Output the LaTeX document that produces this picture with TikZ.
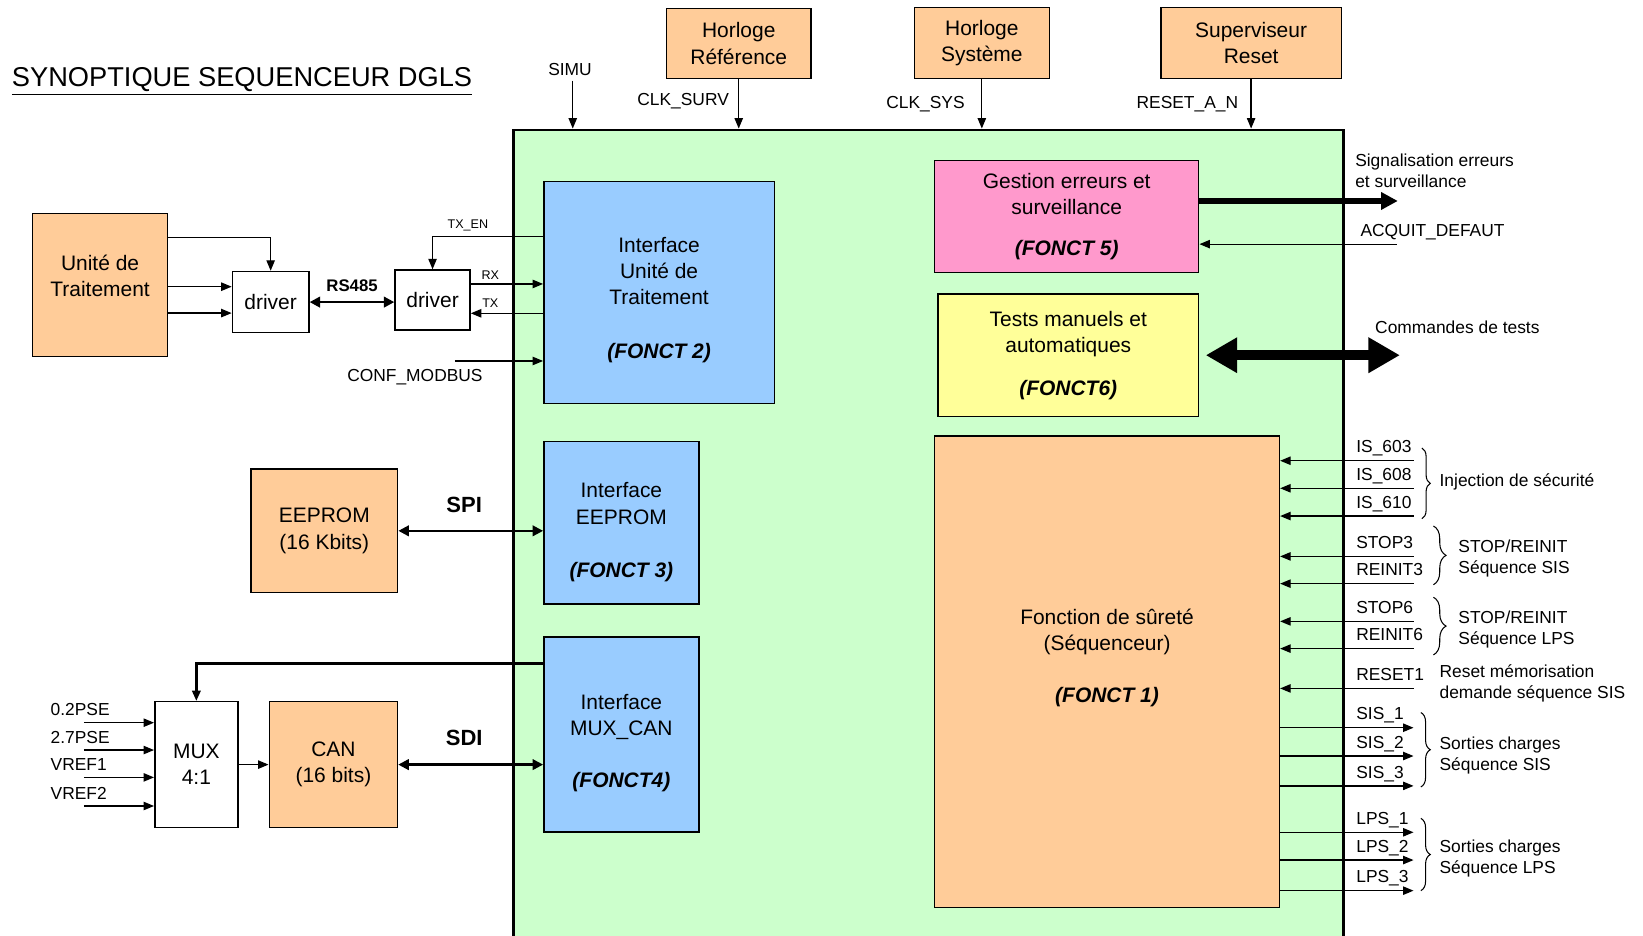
\documentclass[tikz,border=0pt]{standalone}
\usepackage{fontspec}
\setmainfont{Liberation Sans}
\usetikzlibrary{arrows.meta}
\usetikzlibrary{decorations.pathreplacing}

\definecolor{peche}{RGB}{255,204,153}
\definecolor{vertclair}{RGB}{204,255,204}
\definecolor{bleuclair}{RGB}{153,204,255}
\definecolor{rose}{RGB}{255,153,204}
\definecolor{jaune}{RGB}{255,255,153}

\newcommand{\ftitre}{\fontsize{13}{15}\selectfont}
\newcommand{\fbloc}{\fontsize{10}{12.5}\selectfont}
\newcommand{\fsig}{\fontsize{8.3}{10}\selectfont}
\newcommand{\fpetit}{\fontsize{6}{7}\selectfont}

\begin{document}
\begin{tikzpicture}[x=0.5pt, y=-0.5pt,
    blk/.style={draw, line width=0.7pt, align=center, inner sep=2pt, font=\fbloc},
    txt/.style={align=center, inner sep=2pt, font=\fbloc},
    lbl/.style={inner sep=1pt, font=\fsig},
    rlbl/.style={inner sep=1pt, font=\fsig, align=left, anchor=west},
    fl/.style={line width=0.6pt, -{Triangle[length=5pt,width=4pt]}},
    dblfl/.style={line width=1.3pt, {Triangle[length=5pt,width=5pt]}-{Triangle[length=5pt,width=5pt]}},
    grosfl/.style={line width=2.7pt, -{Triangle[length=8pt,width=8pt]}},
    fatfl/.style={line width=5pt, {Triangle[length=15pt,width=16pt]}-{Triangle[length=15pt,width=16pt]}},
    accol/.style={decorate, decoration={brace, amplitude=#1}, line width=0.5pt}]
\useasboundingbox (0,0) rectangle (1568,893);

\node[anchor=west, inner sep=0pt, font=\ftitre] (titre) at (11,78) {\underline{SYNOPTIQUE SEQUENCEUR DGLS}};

% carte sequenceur
\node[blk, fill=vertclair, line width=1.3pt, minimum width=396pt, minimum height=390.5pt] (seq) at (886,514.5) {};

% blocs externes
\node[blk, fill=peche, minimum width=69pt, minimum height=33.5pt] (horlref) at (705,41.5) {Horloge\\Référence};
\node[blk, fill=peche, minimum width=64.5pt, minimum height=34pt] (horlsys) at (937,41) {Horloge\\Système};
\node[blk, fill=peche, minimum width=86pt, minimum height=34pt] (supreset) at (1194,41) {Superviseur\\Reset};
\node[blk, fill=peche, minimum width=64.5pt, minimum height=68pt] (ut) at (95.5,272) {};
\node[txt] (uttxt) at ([yshift=4.5pt]ut) {Unité de\\Traitement};
\node[blk, fill=white, minimum width=36.5pt, minimum height=29.2pt] (drv1) at (258.3,288.3) {driver};
\node[blk, fill=white, minimum width=35.8pt, minimum height=28.7pt] (drv2) at (412.8,286.4) {driver};
\node[blk, fill=peche, minimum width=70pt, minimum height=59pt] (eeprom) at (309.5,506.6) {EEPROM\\(16 Kbits)};
\node[blk, fill=white, minimum width=39.7pt, minimum height=60pt] (mux) at (187.4,729.7) {MUX\\4:1};
\node[blk, fill=peche, minimum width=61.2pt, minimum height=60pt] (can) at (318.2,729.7) {CAN\\(16 bits)};

% fonctions internes
\node[blk, fill=bleuclair, minimum width=110pt, minimum height=106pt] (iut) at (629,279) {};
\node[txt] (iuttxt) at ([yshift=-3.5pt]iut) {Interface\\Unité de\\Traitement\\[13pt]\textbf{\textit{(FONCT 2)}}};
\node[blk, fill=bleuclair, minimum width=74pt, minimum height=77.5pt] (ieep) at (593,499) {};
\node[txt] (ieeptxt) at ([yshift=-4.5pt]ieep) {Interface\\EEPROM\\[13pt]\textbf{\textit{(FONCT 3)}}};
\node[blk, fill=bleuclair, minimum width=74pt, minimum height=93pt] (imux) at (593,701) {};
\node[txt] (imuxtxt) at ([yshift=-4pt]imux) {Interface\\MUX\_CAN\\[12.5pt]\textbf{\textit{(FONCT4)}}};
\node[blk, fill=rose, minimum width=126pt, minimum height=53.5pt] (gest) at (1018,206.7) {Gestion erreurs et\\surveillance\\[7pt]\textbf{\textit{(FONCT 5)}}};
\node[blk, fill=jaune, minimum width=124.5pt, minimum height=58.5pt] (tests) at (1019.5,339) {Tests manuels et\\automatiques\\[8pt]\textbf{\textit{(FONCT6)}}};
\node[blk, fill=peche, minimum width=164.5pt, minimum height=225pt] (surete) at (1056.5,641) {};
\node[txt] (suretetxt) at (1056.5,628) {Fonction de sûreté\\(Séquenceur)\\[12.5pt]\textbf{\textit{(FONCT 1)}}};

% entrees du haut
\coordinate (simu) at (546.6,77);
\draw[fl] (simu) -- (simu |- seq.north);
\node[lbl] (lsimu) at (544,66) {SIMU};
\draw[fl] (horlref.south) -- (horlref.south |- seq.north);
\node[lbl, anchor=east] (lclksurv) at (698,97) {CLK\_SURV};
\draw[fl] (horlsys.south) -- (horlsys.south |- seq.north);
\node[lbl, anchor=east] (lclksys) at (923,99) {CLK\_SYS};
\draw[fl] (supreset.south) -- (supreset.south |- seq.north);
\node[lbl, anchor=east] (lreset) at (1184,99) {RESET\_A\_N};

% unite de traitement et drivers
\draw[fl] ([yshift=22.5pt]ut.east) -| (drv1.north);
\coordinate (utb) at ([yshift=-0.8pt]ut.east);
\draw[fl] (utb) -- (utb -| drv1.west);
\coordinate (utc) at ([yshift=-13.4pt]ut.east);
\draw[fl] (utc) -- (utc -| drv1.west);
\draw[dblfl] (drv1.east) -- (drv1.east -| drv2.west);
\node[lbl, font=\fontsize{8}{9}\selectfont\bfseries] (lrs) at (336,273) {RS485};
\draw[fl] ([yshift=26.5pt]iut.west) -| (drv2.north) node[pos=0.34, above, inner sep=1pt, yshift=1.5pt, font=\fpetit] (ltxen) {TX\_EN};
\coordinate (rx) at ([yshift=7.7pt]drv2.east);
\draw[fl] (rx) -- (rx -| iut.west) node[pos=0.27, above, inner sep=1pt, yshift=1pt, font=\fpetit] (lrx) {RX};
\coordinate (tx) at ([yshift=-6.3pt]drv2.east);
\draw[fl] (tx -| iut.west) -- (tx) node[pos=0.73, above, inner sep=1pt, yshift=1.5pt, font=\fpetit] (ltx) {TX};
\coordinate (conf) at (434,344.5);
\draw[fl] (conf) -- (conf -| iut.west);
\node[lbl] (lconf) at (396,359.5) {CONF\_MODBUS};

% EEPROM et CAN
\draw[dblfl, line width=1.1pt] (eeprom.east) -- (eeprom.east -| ieep.west);
\node[lbl, font=\fontsize{10.5}{12}\selectfont\bfseries] (lspi) at (443,482) {SPI};
\draw[fl] (mux.east) -- (can.west);
\draw[dblfl, line width=1.1pt] (can.east) -- (can.east -| imux.west);
\node[lbl, font=\fontsize{10.5}{12}\selectfont\bfseries] (lsdi) at (443,704.7) {SDI};
\draw[fl, line width=1.2pt] ([yshift=34pt]imux.west) -| (mux.north);

% entrees du MUX
\coordinate (pse02) at (80,689.7);
\draw[fl] (pse02) -- (pse02 -| mux.west);
\node[lbl, anchor=base west] (lpse02) at (46,683.2) {0.2PSE};
\coordinate (pse27) at (80,715.8);
\draw[fl] (pse27) -- (pse27 -| mux.west);
\node[lbl, anchor=base west] (lpse27) at (46,709.3) {2.7PSE};
\coordinate (vref1) at (80,741.9);
\draw[fl] (vref1) -- (vref1 -| mux.west);
\node[lbl, anchor=base west] (lvref1) at (46,735.4) {VREF1};
\coordinate (vref2) at (80,769.2);
\draw[fl] (vref2) -- (vref2 -| mux.west);
\node[lbl, anchor=base west] (lvref2) at (46,762.7) {VREF2};

% gestion erreurs et tests
\coordinate (sigout) at (1334,191.8);
\draw[grosfl] (gest.east |- sigout) -- (sigout);
\node[rlbl] (lsig) at (1291,163.3) {Signalisation erreurs\\et surveillance};
\coordinate (acq) at (1333,233);
\draw[fl] (acq) -- (acq -| gest.east);
\node[rlbl] (lacq) at (1296,221.5) {ACQUIT\_DEFAUT};
\draw[fatfl] ([xshift=3pt]tests.east) -- (tests.east -| 1336,338);
\node[rlbl] (lcmd) at (1310,312) {Commandes de tests};

% entrees FONCT 1
\coordinate (is603) at (1349,439.7);
\draw[fl] (is603) -- (is603 -| surete.east);
\node[lbl, anchor=base west] (lis603) at (1292,432.2) {IS\_603};
\coordinate (is608) at (1349,466);
\draw[fl] (is608) -- (is608 -| surete.east);
\node[lbl, anchor=base west] (lis608) at (1292,458.5) {IS\_608};
\coordinate (is610) at (1349,492.5);
\draw[fl] (is610) -- (is610 -| surete.east);
\node[lbl, anchor=base west] (lis610) at (1292,485) {IS\_610};
\coordinate (stop3) at (1349,531);
\draw[fl] (stop3) -- (stop3 -| surete.east);
\node[lbl, anchor=base west] (lstop3) at (1292,523.5) {STOP3};
\coordinate (reinit3) at (1349,557);
\draw[fl] (reinit3) -- (reinit3 -| surete.east);
\node[lbl, anchor=base west] (lreinit3) at (1292,549.5) {REINIT3};
\coordinate (stop6) at (1349,593);
\draw[fl] (stop6) -- (stop6 -| surete.east);
\node[lbl, anchor=base west] (lstop6) at (1292,585.5) {STOP6};
\coordinate (reinit6) at (1349,619);
\draw[fl] (reinit6) -- (reinit6 -| surete.east);
\node[lbl, anchor=base west] (lreinit6) at (1292,611.5) {REINIT6};
\coordinate (reset1) at (1349,657);
\draw[fl] (reset1) -- (reset1 -| surete.east);
\node[lbl, anchor=base west] (lreset1) at (1292,649.5) {RESET1};

% sorties FONCT 1
\coordinate (sis1) at (1349,694.5);
\draw[fl] (sis1 -| surete.east) -- (sis1);
\node[lbl, anchor=base west] (lsis1) at (1292,687) {SIS\_1};
\coordinate (sis2) at (1349,721.5);
\draw[fl] (sis2 -| surete.east) -- (sis2);
\node[lbl, anchor=base west] (lsis2) at (1292,714) {SIS\_2};
\coordinate (sis3) at (1349,750);
\draw[fl] (sis3 -| surete.east) -- (sis3);
\node[lbl, anchor=base west] (lsis3) at (1292,742.5) {SIS\_3};
\coordinate (lps1) at (1349,794.3);
\draw[fl] (lps1 -| surete.east) -- (lps1);
\node[lbl, anchor=base west] (llps1) at (1292,786.8) {LPS\_1};
\coordinate (lps2) at (1349,820.8);
\draw[fl] (lps2 -| surete.east) -- (lps2);
\node[lbl, anchor=base west] (llps2) at (1292,813.3) {LPS\_2};
\coordinate (lps3) at (1349,850);
\draw[fl] (lps3 -| surete.east) -- (lps3);
\node[lbl, anchor=base west] (llps3) at (1292,842.5) {LPS\_3};

% accolades
\draw[accol=4pt] (1357,427.6) -- (1357,495);
\node[rlbl] (linj) at (1371.5,459.7) {Injection de sécurité};
\draw[accol=6pt] (1368,502) -- (1368,558);
\node[rlbl] (lstopsis) at (1389.5,533) {STOP/REINIT\\Séquence SIS};
\draw[accol=6pt] (1368,570) -- (1368,625);
\node[rlbl] (lstoplps) at (1389.5,601) {STOP/REINIT\\Séquence LPS};
\node[rlbl] (lmemo) at (1371.5,652) {Reset mémorisation\\demande séquence SIS};
\draw[accol=4.5pt] (1356,680) -- (1356,751);
\node[rlbl] (lsortsis) at (1371.5,721) {Sorties charges\\Séquence SIS};
\draw[accol=4.5pt] (1356,781) -- (1356,850);
\node[rlbl] (lsortlps) at (1371.5,819) {Sorties charges\\Séquence LPS};
\end{tikzpicture}
\end{document}
